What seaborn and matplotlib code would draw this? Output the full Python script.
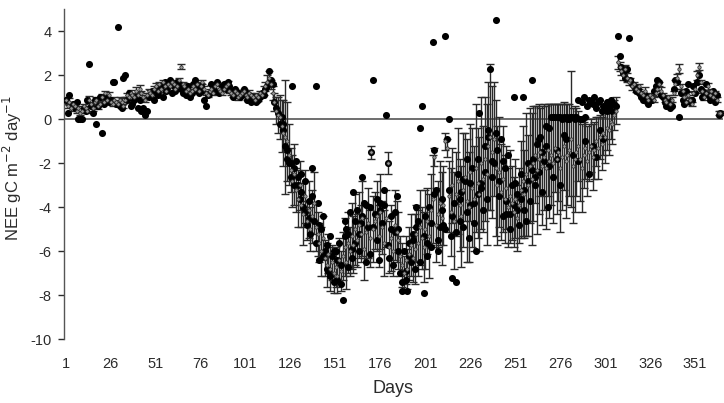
import numpy as np
import pandas as pd
import matplotlib
matplotlib.use("Agg")
import matplotlib.pyplot as plt
import seaborn as sns

# ---------------- data ----------------
days = list(range(1, 366))

mean_nee = [
    0.9, 0.6, 0.8, 0.5, 0.7, 0.6, 0.4, 0.5, 0.3, 0.4,
    0.6, 0.5, 0.4, 0.9, 0.7, 0.5, 0.8, 0.9, 0.6, 0.7,
    1.0, 0.8, 1.2, 0.9, 1.1, 0.8, 0.7, 0.9, 0.8, 0.7,
    0.9, 0.8, 0.6, 0.9, 1.1, 1.0, 1.2, 1.1, 1.0, 1.3,
    1.1, 1.4, 1.2, 1.0, 0.9, 1.1, 1.3, 1.2, 1.1, 1.4,
    1.5, 1.3, 1.6, 1.4, 1.7, 1.5, 1.3, 1.6, 1.5, 1.7,
    1.6, 1.4, 1.5, 1.8, 2.4, 1.6, 1.5, 1.3, 1.4, 1.2,
    1.3, 1.5, 1.4, 1.6, 1.3, 1.5, 1.7, 1.4, 1.2, 1.1,
    1.3, 1.4, 1.2, 1.5, 1.6, 1.4, 1.3, 1.2, 1.4, 1.5,
    1.6, 1.3, 1.2, 1.1, 1.3, 1.2, 1.0, 1.1, 1.2, 1.3,
    1.1, 1.0, 1.2, 1.1, 1.0, 0.9, 1.1, 1.0, 1.2, 1.1,
    1.3, 1.5, 1.7, 1.9, 1.6, 1.2, 0.8, 0.4, 0.2, 0.1,
    -0.3, -0.6, -0.8, -1.0, -1.6, -2.3, -2.8, -2.5, -3.2, -3.6,
    -3.0, -3.9, -4.3, -3.5, -4.6, -4.1, -5.0, -4.4, -3.8, -4.9,
    -5.2, -5.6, -6.0, -5.4, -6.3, -6.6, -6.1, -6.8, -6.5, -7.0,
    -6.7, -7.1, -6.4, -6.9, -6.2, -5.8, -6.5, -5.6, -6.0, -5.3,
    -5.7, -5.0, -5.5, -4.8, -5.2, -4.5, -5.9, -5.1, -4.7, -5.4,
    -1.5, -5.0, -4.6, -4.4, -5.3, -4.2, -4.9, -5.6, -4.5, -2.0,
    -5.8, -5.4, -6.0, -4.8, -5.1, -5.5, -6.2, -6.6, -7.0, -6.4,
    -6.8, -6.1, -5.7, -6.3, -5.9, -5.2, -5.6, -4.9, -5.4, -5.8,
    -5.0, -4.6, -5.3, -4.1, -3.6, -1.7, -4.8, -4.3, -3.8, -4.5,
    -3.9, -1.0, -1.3, -3.5, -4.2, -3.0, -4.6, -3.4, -2.8, -3.9,
    -4.4, -3.2, -2.6, -3.7, -4.0, -2.4, -3.1, -3.6, -2.2, -2.9,
    -3.4, -2.0, -2.7, -1.8, -2.5, -1.2, -0.8, -1.5, -0.9, -2.2,
    -3.0, -2.4, -3.3, -2.7, -3.6, -3.1, -4.0, -3.5, -3.8, -4.2,
    -3.6, -4.5, -3.9, -3.2, -2.8, -3.4, -2.5, -3.0, -2.1, -2.7,
    -2.0, -1.6, -2.3, -1.8, -1.5, -2.1, -1.7, -2.2, -1.4, -1.9,
    -1.6, -2.0, -1.3, -1.8, -1.5, -2.2, -1.7, -1.2, -1.9, -1.6,
    -1.4, -0.9, -2.1, -1.8, -1.5, -1.2, -1.8, -2.2, -1.6, -1.3,
    -1.9, -1.5, -1.2, -1.7, -1.4, -1.0, -1.3, -0.8, -1.1, -0.6,
    -0.8, -0.4, -0.5, -0.1, -0.2, 0.2, 0.4, 2.6, 2.4, 2.2,
    2.0, 2.3, 1.9, 1.7, 1.8, 1.5, 1.6, 1.4, 1.3, 1.5,
    1.2, 1.1, 1.3, 1.0, 0.9, 1.1, 1.0, 0.9, 1.2, 1.4,
    1.6, 1.3, 1.1, 0.9, 0.8, 1.0, 0.7, 0.9, 1.2, 1.6,
    1.9, 2.3, 1.5, 1.3, 1.0, 0.8, 1.1, 0.9, 0.7, 1.2,
    1.4, 2.0, 2.4, 1.7, 1.3, 1.0, 1.2, 1.5, 1.1, 1.3,
    1.0, 1.2, 0.9, 0.3, 0.3,
]

err_nee = [
    .1, .1, .15, .1, .1, .1, .1, .1, .1, .1,
    .1, .1, .1, .15, .1, .1, .1, .1, .15, .1,
    .15, .1, .1, .1, .15, .1, .1, .1, .1, .1,
    .1, .15, .1, .1, .1, .1, .15, .1, .1, .15,
    .1, .15, .1, .1, .1, .1, .1, .15, .1, .1,
    .15, .1, .1, .15, .1, .1, .1, .1, .15, .1,
    .1, .1, .15, .1, .1, .1, .15, .1, .1, .1,
    .1, .1, .15, .1, .1, .15, .1, .1, .1, .1,
    .1, .15, .1, .1, .1, .15, .1, .1, .1, .1,
    .15, .1, .1, .1, .1, .15, .1, .1, .1, .1,
    .1, .1, .15, .1, .1, .1, .1, .15, .1, .1,
    .2, .2, .3, .3, .2, .3, .4, .6, .8, 1.0,
    1.2, 1.5, 2.6, 1.8, 1.4, 1.0, 1.2, 1.4, 1.0, 1.3,
    1.1, 1.0, 1.4, 1.2, 0.9, 1.3, 1.0, 1.2, 1.4, 1.1,
    1.0, 0.9, 1.1, 1.0, 0.8, 1.0, 0.9, 1.0, 0.8, 0.9,
    0.9, 0.8, 1.0, 0.9, 1.1, 1.3, 1.2, 1.4, 1.1, 1.5,
    1.3, 1.6, 1.2, 1.5, 1.3, 1.7, 1.4, 1.2, 1.6, 1.3,
    0.3, 1.5, 1.3, 1.6, 1.4, 1.7, 1.2, 1.5, 1.3, 0.5,
    1.2, 1.5, 1.1, 1.6, 1.4, 1.3, 0.9, 1.0, 0.8, 1.1,
    0.9, 1.2, 1.4, 1.1, 1.6, 1.3, 1.5, 1.7, 1.4, 1.6,
    1.8, 1.5, 1.9, 1.6, 2.0, 0.4, 1.7, 1.5, 1.9, 2.1,
    1.8, 0.4, 0.4, 1.6, 2.0, 1.7, 2.2, 1.9, 2.4, 2.1,
    2.3, 2.6, 2.0, 2.8, 2.5, 2.2, 2.7, 2.4, 2.9, 2.5,
    2.6, 3.0, 2.4, 2.8, 3.2, 2.9, 3.3, 3.0, 2.6, 3.1,
    2.7, 2.5, 2.2, 2.4, 2.0, 1.9, 1.8, 2.1, 1.7, 1.6,
    1.8, 1.5, 1.7, 2.2, 2.5, 2.0, 2.8, 2.3, 2.6, 3.0,
    2.6, 2.2, 2.9, 2.5, 2.0, 2.7, 2.4, 2.8, 2.1, 2.6,
    2.3, 2.7, 2.0, 2.5, 2.2, 2.9, 2.4, 2.0, 2.6, 2.3,
    2.1, 3.1, 2.6, 2.4, 2.0, 1.6, 1.9, 2.0, 1.5, 1.4,
    1.6, 1.3, 1.2, 1.5, 1.3, 1.1, 1.4, 1.0, 1.2, 1.0,
    1.2, 1.0, 1.1, 0.8, 0.9, 0.7, 0.6, 0.3, 0.2, 0.2,
    .2, .15, .2, .15, .1, .15, .1, .15, .1, .1,
    .1, .1, .15, .1, .1, .1, .1, .1, .15, .1,
    .1, .15, .1, .1, .1, .1, .1, .1, .1, .2,
    .15, .2, .1, .1, .1, .1, .15, .1, .1, .1,
    .15, .2, .15, .1, .1, .1, .1, .15, .1, .1,
    .1, .1, .1, .1, .1,
]

dot_nee = [
    0.9, 0.3, 1.1, 0.6, 0.7, 0.5, 0.8, 0.0, 0.0, 0.0,
    0.5, 0.4, 0.9, 2.5, 0.6, 0.3, 0.9, -0.2, 0.6, 1.0,
    -0.6, 0.7, 1.0, 0.9, 0.8, 0.9, 1.7, 1.7, 0.7, 4.2,
    0.6, 0.5, 1.9, 2.0, 0.9, 1.2, 0.6, 0.7, 0.9, 1.0,
    0.5, 0.9, 0.4, 0.5, 0.2, 0.4, 1.0, 1.1, 1.3, 0.9,
    1.2, 1.1, 1.4, 1.5, 1.0, 1.7, 1.3, 1.5, 1.8, 1.2,
    1.5, 1.3, 1.7, 1.6, 1.4, 1.2, 1.4, 1.1, 1.5, 1.0,
    1.2, 1.6, 1.8, 1.4, 1.2, 1.5, 1.3, 0.9, 0.6, 1.1,
    1.2, 1.6, 1.4, 1.3, 1.7, 1.2, 1.3, 1.5, 1.6, 1.4,
    1.7, 1.5, 1.3, 1.0, 1.4, 1.1, 1.2, 1.0, 1.1, 1.4,
    1.2, 0.9, 1.1, 0.8, 1.0, 0.9, 0.8, 0.9, 1.0, 1.2,
    1.1, 1.4, 1.5, 2.2, 1.8, 1.6, 0.8, 0.5, 0.3, -0.2,
    0.1, -0.5, -1.2, -1.8, -2.0, -2.6, 1.5, -2.2, -1.9, -3.0,
    -3.6, -2.5, -4.0, -2.8, -4.8, -3.7, -5.2, -2.2, -4.6, 1.5,
    -3.8, -6.4, -5.0, -4.4, -6.0, -5.7, -6.9, -5.3, -6.2, -7.4,
    -6.0, -7.3, -5.6, -6.6, -8.2, -4.6, -5.0, -6.7, -4.2, -5.9,
    -3.3, -5.6, -4.1, -6.0, -4.7, -2.6, -3.8, -6.5, -4.9, -4.0,
    -1.5, 1.8, -4.3, -3.6, -6.4, -3.8, -4.7, -3.2, 0.2, -2.0,
    -6.3, -4.4, -6.6, -5.1, -3.5, -5.0, -7.0, -7.8, -6.0, -7.3,
    -7.8, -5.6, -6.5, -5.2, -6.8, -4.0, -4.6, -0.4, 0.6, -7.9,
    -4.4, -6.2, -4.0, -5.8, 3.5, -1.4, -3.2, -5.5, -4.9, -3.6,
    -4.8, 3.8, -0.9, 0.0, -5.3, -7.2, -3.8, -7.4, -2.5, -4.6,
    -3.3, -4.9, -2.8, -1.8, -5.4, -3.9, -2.2, -4.7, -6.0, -3.4,
    0.3, -2.9, -4.1, -1.2, -3.6, -0.8, 2.3, -2.6, -2.0, 4.5,
    -1.4, -3.5, -0.9, -4.4, -2.2, -4.3, -1.6, -5.0, -3.0, 1.0,
    -2.9, -4.1, -4.8, -2.5, 1.0, -3.2, -4.6, -2.0, -3.7, 1.8,
    -1.8, -3.0, -1.1, -2.4, -0.8, -3.3, -1.9, -1.2, -4.0, -0.4,
    0.1, -2.6, 0.1, -1.4, 0.1, -3.0, 0.0, 0.1, -0.9, 0.1,
    0.0, 0.1, -1.6, 0.0, 0.1, 0.9, 0.0, 0.8, 1.0, 0.1,
    0.6, 0.9, 0.8, 0.7, 1.0, 0.5, 0.8, 0.9, 0.4, 0.6,
    0.5, 0.8, 0.6, 0.9, 0.4, 0.7, 0.6, 3.8, 2.9, 2.4,
    2.1, 1.9, 2.3, 3.7, 1.8, 1.6, 1.5, 1.3, 1.4, 1.2,
    1.0, 0.9, 1.1, 0.8, 0.7, 1.0, 0.9, 1.3, 1.5, 1.8,
    1.7, 1.1, 1.0, 0.8, 0.6, 0.9, 0.5, 0.6, 1.4, 1.8,
    1.7, 0.1, 1.2, 0.9, 0.7, 1.3, 1.6, 0.8, 0.9, 1.5,
    1.2, 1.7, 2.0, 1.4, 1.0, 1.2, 1.6, 1.1, 0.9, 1.0,
    1.3, 0.8, 1.1, 0.2, 0.3,
]

# a second set of growing-season observations (every other day, 122..304)
extra_days = list(range(122, 305, 2))
extra_nee = [
    -0.2, -1.4, -2.0, -3.0, -2.6, -3.3, -4.2, -4.5, -3.5, -5.6,
    -4.8, -6.2, -6.8, -7.1, -6.0, -6.4, -7.5, -5.3, -5.2, -6.3,
    -4.6, -5.2, -4.4, -3.9, -6.1, -4.9, -5.5, -4.1, -3.9, -5.7,
    -5.0, -4.2, -6.0, -7.4, -6.9, -6.2, -5.5, -4.9, -6.5, -5.3,
    -5.6, -4.7, -3.4, -6.0, -4.1, -5.0, -3.2, -4.4, -5.1, -3.6,
    -2.7, -4.2, -2.9, -3.8, -1.8, -3.1, -2.4, -0.5, -1.9, -0.6,
    -2.8, -1.9, -3.7, -4.3, -3.9, -3.4, -3.6, -4.1, -2.8, -2.3,
    -2.6, -0.9, -1.5, -0.3, -2.1, 0.1, -1.8, 0.1, -0.7, 0.0,
    0.1, 0.1, -1.9, 0.0, -1.0, -2.5, -1.2, -1.7, -0.5, -0.9,
    0.4, 0.7,
]

x_ticks = [1, 26, 51, 76, 101, 126, 151, 176, 201, 226, 251, 276, 301, 326, 351]
y_ticks = [-10, -8, -6, -4, -2, 0, 2, 4]

df = pd.DataFrame({"day": days, "mean": mean_nee, "err": err_nee, "dot": dot_nee})
df_extra = pd.DataFrame({"day": extra_days, "dot": extra_nee})

# ---------------- style ----------------
sns.set_style("white")
plt.rcParams["font.family"] = ["Liberation Sans", "DejaVu Sans"]
plt.rcParams["axes.unicode_minus"] = False

fig = plt.figure(figsize=(7.24, 4.03), dpi=100)
ax = fig.add_axes([64 / 724, 1 - 339.3 / 403, 659 / 724, 330 / 403])

ax.axhline(0, color="#6e6e6e", lw=1.4, zorder=1)

ax.errorbar(df["day"], df["mean"], yerr=df["err"], fmt="none",
            ecolor="#2a2a2a", elinewidth=1.0, capsize=2.6, capthick=1.0, zorder=2)
sns.scatterplot(data=df, x="day", y="dot", ax=ax, color="black", s=26,
                edgecolor="black", linewidth=0, zorder=3, legend=False)
sns.scatterplot(data=df_extra, x="day", y="dot", ax=ax, color="black", s=26,
                edgecolor="black", linewidth=0, zorder=3, legend=False)
sns.scatterplot(data=df, x="day", y="mean", ax=ax, facecolor="#9a9a9a", s=6,
                edgecolor="#222222", linewidth=0.5, zorder=4, legend=False)

ax.set_xlim(0, 366.5)
ax.set_ylim(-10, 5)
ax.set_xticks(x_ticks)
ax.set_yticks(y_ticks)
ax.tick_params(axis="x", length=0, pad=13, labelsize=10.5, colors="#2b2b2b")
ax.tick_params(axis="y", length=4, width=1, pad=5, labelsize=10.5,
               colors="#2b2b2b", direction="out", left=True)
for s in ["top", "right", "bottom"]:
    ax.spines[s].set_visible(False)
ax.spines["left"].set_color("#555555")
ax.spines["left"].set_linewidth(1.0)

ax.set_xlabel("Days", fontsize=13, color="#2b2b2b", labelpad=6)
ax.set_ylabel("NEE gC m$^{-2}$ day$^{-1}$", fontsize=12, color="#2b2b2b")
ax.yaxis.set_label_coords(-0.061, 0.52)

fig.savefig("out.png", dpi=100)
